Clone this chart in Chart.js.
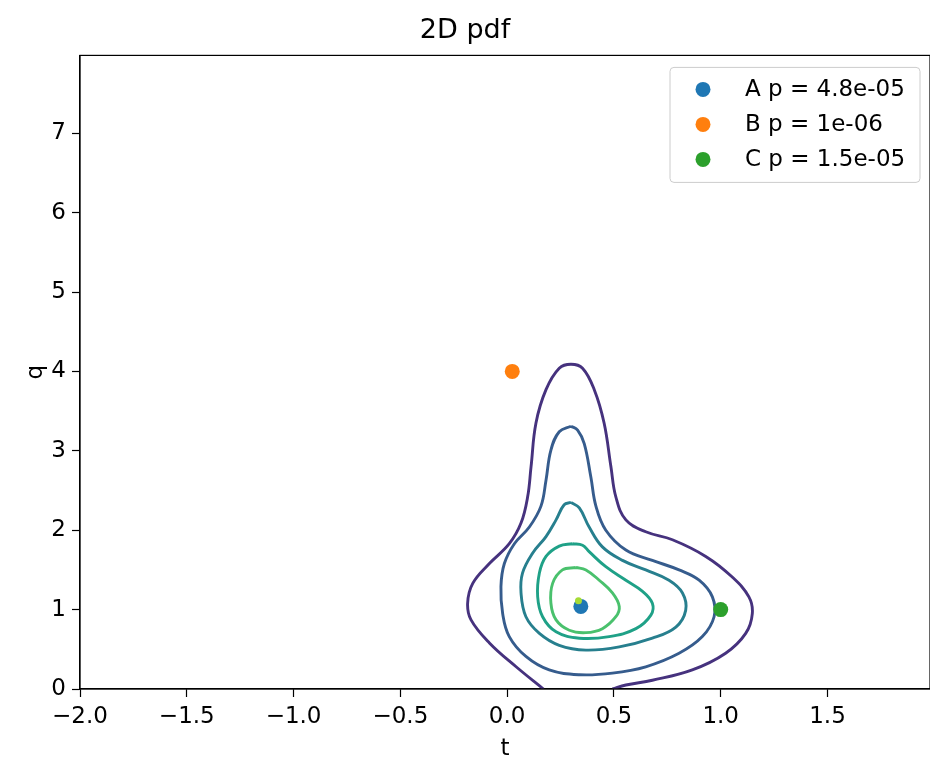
<!DOCTYPE html>
<html>
<head>
<meta charset="utf-8">
<script src="https://cdn.jsdelivr.net/npm/chart.js@4.4.0/dist/chart.umd.min.js"></script>
<style>
  body { margin: 0; background: #fff; }
  #wrap { width: 930px; height: 760px; }
</style>
</head>
<body>
<div id="wrap"><canvas id="grafica" width="930" height="760"></canvas></div>
<script>
// points
const pointNames = ['A', 'B', 'C'];
const pValues = ['4.8e-05', '1e-06', '1.5e-05'];
const pointX = [0.345, 0.024, 1.0];
const pointY = [1.04, 4.0, 1.0];
const pointColors = ['#1f77b4', '#ff7f0e', '#2ca02c'];

// contour levels, outer to inner
const contour1 = [[0.17,0],[0.042,0.28],[-0.083,0.58],[-0.169,0.87],[-0.185,1.08],[-0.161,1.33],[-0.083,1.58],[0.010,1.83],[0.065,2.09],[0.096,2.42],[0.112,2.80],[0.135,3.35],[0.182,3.77],[0.244,4.04],[0.299,4.09],[0.353,4.04],[0.408,3.77],[0.454,3.35],[0.486,2.80],[0.509,2.42],[0.556,2.13],[0.649,1.98],[0.774,1.88],[0.930,1.67],[1.054,1.41],[1.132,1.16],[1.148,0.95],[1.117,0.70],[1.023,0.45],[0.867,0.24],[0.680,0.11],[0.556,0.05],[0.493,0]];
const contour2 = [[0.299,3.31],[0.244,3.24],[0.205,3.01],[0.182,2.63],[0.158,2.30],[0.104,2.04],[0.034,1.83],[-0.013,1.58],[-0.029,1.29],[-0.021,0.95],[0.010,0.66],[0.088,0.41],[0.197,0.24],[0.338,0.18],[0.493,0.20],[0.649,0.28],[0.805,0.45],[0.914,0.66],[0.969,0.91],[0.961,1.16],[0.899,1.37],[0.805,1.50],[0.680,1.62],[0.556,1.75],[0.462,2.00],[0.416,2.30],[0.392,2.67],[0.361,3.09],[0.330,3.26],[0.299,3.31]];
const contour3 = [[0.299,2.35],[0.267,2.32],[0.229,2.13],[0.182,1.92],[0.119,1.71],[0.072,1.46],[0.065,1.21],[0.088,0.91],[0.151,0.70],[0.244,0.55],[0.369,0.49],[0.525,0.53],[0.680,0.64],[0.790,0.78],[0.836,0.99],[0.821,1.21],[0.758,1.37],[0.649,1.50],[0.540,1.62],[0.446,1.79],[0.384,2.04],[0.338,2.28],[0.299,2.35]];
const contour4 = [[0.306,1.83],[0.244,1.80],[0.182,1.67],[0.151,1.46],[0.143,1.16],[0.166,0.91],[0.229,0.72],[0.338,0.64],[0.478,0.66],[0.603,0.76],[0.673,0.93],[0.680,1.08],[0.634,1.23],[0.556,1.37],[0.462,1.54],[0.384,1.73],[0.353,1.81],[0.306,1.83]];
const contour5 = [[0.322,1.53],[0.259,1.50],[0.213,1.33],[0.205,1.08],[0.229,0.87],[0.291,0.74],[0.369,0.71],[0.446,0.76],[0.509,0.91],[0.525,1.04],[0.493,1.21],[0.431,1.37],[0.369,1.50],[0.322,1.53]];
const contourColors = ['#46327e', '#365c8d', '#277f8e', '#1fa187', '#4ac16d'];
// tiny innermost level near the peak
const peakX = [0.334];
const peakY = [1.11];
const peakColor = '#a5db36';

const xTicks = [-2.0, -1.5, -1.0, -0.5, 0.0, 0.5, 1.0, 1.5];
const yTicks = [0, 1, 2, 3, 4, 5, 6, 7];

const FONT = 'DejaVu Sans';

function fmt(v, d) {
  var s = Math.abs(v).toFixed(d);
  return v < 0 ? '\u2212' + s : s;
}

// frame + legend box like matplotlib
const framePlugin = {
  id: 'frame',
  afterDraw(chart) {
    const ctx = chart.ctx;
    const a = chart.chartArea;
    ctx.save();
    ctx.strokeStyle = '#000';
    ctx.lineWidth = 1.2;
    ctx.strokeRect(a.left, a.top, a.right - a.left, a.bottom - a.top);

    // legend
    const bx = a.right - 260, by = a.top + 12, bw = 250, bh = 115;
    ctx.beginPath();
    ctx.roundRect(bx, by, bw, bh, 4);
    ctx.fillStyle = 'rgba(255,255,255,0.8)';
    ctx.fill();
    ctx.strokeStyle = '#cccccc';
    ctx.lineWidth = 1;
    ctx.stroke();
    ctx.font = '23px "' + FONT + '"';
    ctx.textBaseline = 'middle';
    ctx.textAlign = 'left';
    for (let i = 0; i < pointNames.length; i++) {
      const cy = by + 22 + i * 35;
      ctx.beginPath();
      ctx.arc(bx + 33, cy, 7.5, 0, Math.PI * 2);
      ctx.fillStyle = pointColors[i];
      ctx.fill();
      ctx.fillStyle = '#000';
      ctx.fillText(pointNames[i] + ' p = ' + pValues[i], bx + 75, cy + 1);
    }
    ctx.restore();
  }
};

const contours = [contour1, contour2, contour3, contour4, contour5];
const datasets = [];

pointNames.forEach(function(n, i) {
  datasets.push({
    type: 'scatter',
    label: n,
    data: [{x: pointX[i], y: pointY[i]}],
    backgroundColor: pointColors[i],
    borderWidth: 0,
    pointRadius: 7.5,
    order: 1
  });
});

datasets.push({
  type: 'scatter',
  label: 'peak',
  data: peakX.map((x, i) => ({x: x, y: peakY[i]})),
  backgroundColor: peakColor,
  borderWidth: 0,
  pointRadius: 3.5,
  order: 0
});

contours.forEach(function(c, i) {
  datasets.push({
    type: 'line',
    label: 'level' + (i + 1),
    data: c.map(p => ({x: p[0], y: p[1]})),
    borderColor: contourColors[i],
    borderWidth: 2.9,
    pointRadius: 0,
    tension: 0.4,
    fill: false,
    order: 2
  });
});

new Chart(document.getElementById('grafica'), {
  type: 'scatter',
  data: { datasets: datasets },
  plugins: [framePlugin],
  options: {
    responsive: false,
    animation: false,
    layout: { padding: 0, autoPadding: false },
    plugins: {
      legend: { display: false },
      tooltip: { enabled: false },
      title: {
        display: true,
        text: '2D pdf',
        color: '#000',
        font: { family: FONT, size: 27, weight: 'normal' },
        padding: { top: 15, bottom: 8 }
      }
    },
    scales: {
      x: {
        type: 'linear',
        min: -2,
        max: 1.98,
        afterBuildTicks: s => { s.ticks = xTicks.map(v => ({value: v})); },
        afterFit: s => { s.height = 71; s.paddingLeft = 0; s.paddingRight = 0; },
        ticks: {
          color: '#000',
          font: { family: FONT, size: 23 },
          padding: 6,
          maxRotation: 0,
          autoSkip: false,
          callback: v => fmt(v, 1)
        },
        grid: { drawOnChartArea: false, drawTicks: true, tickLength: 8, color: '#000', tickWidth: 1.2 },
        border: { color: '#000', width: 1.2 },
        title: {
          display: true,
          text: 't',
          color: '#000',
          font: { family: FONT, size: 23 },
          padding: { top: 0, bottom: -3 }
        }
      },
      y: {
        type: 'linear',
        min: 0,
        max: 7.98,
        afterBuildTicks: s => { s.ticks = yTicks.map(v => ({value: v})); },
        afterFit: s => { s.width = 80; s.paddingTop = 0; s.paddingBottom = 0; },
        ticks: {
          color: '#000',
          font: { family: FONT, size: 23 },
          padding: 6,
          autoSkip: false,
          callback: v => String(v)
        },
        grid: { drawOnChartArea: false, drawTicks: true, tickLength: 8, color: '#000', tickWidth: 1.2 },
        border: { color: '#000', width: 1.2 },
        title: {
          display: true,
          text: 'q',
          color: '#000',
          font: { family: FONT, size: 23 },
          padding: { top: 22, bottom: 0 }
        }
      }
    }
  }
});
</script>
</body>
</html>
